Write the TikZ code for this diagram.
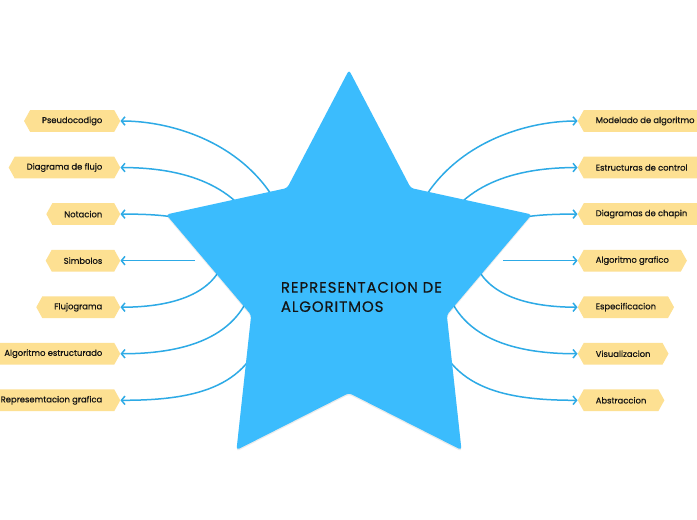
\documentclass[tikz,border=0pt]{standalone}
\usepackage{fontspec}
\setmainfont{Poppins}
\newfontfamily\tagfont{Poppins}[FakeBold=0.6]
\newfontfamily\titlefont{Poppins}[FakeBold=0.4,LetterSpace=6]
\usetikzlibrary{arrows.meta,shapes.symbols}
\definecolor{starblue}{HTML}{3BBCFD}
\definecolor{linkblue}{HTML}{2DAAE6}
\definecolor{tagyellow}{HTML}{FDE092}
\definecolor{ink}{HTML}{141414}
\begin{document}
\begin{tikzpicture}[x=1bp,y=-1bp,
  tag/.style={shape=signal, signal to=west and east, signal pointer angle=122,
    fill=tagyellow, draw=none, minimum height=21.7bp, inner xsep=12bp, inner ysep=0pt,
    font=\tagfont\fontsize{8.4bp}{10bp}\selectfont, text=ink},
  link/.style={draw=linkblue, line width=1.5bp, -{Straight Barb[length=3.5bp,width=8.5bp,line width=1.5bp]}},
  title/.style={align=left, inner sep=0pt, font=\titlefont\fontsize{15bp}{19.3bp}\selectfont, text=ink}]
\useasboundingbox (0,0) rectangle (697,520);
\fill[white] (0,0) rectangle (697,520);

% tags left
\node[tag, anchor=east] (L1) at (120.5,121) {Pseudocodigo};
\node[tag, anchor=east] (L2) at (120.5,167.55) {Diagrama de flujo};
\node[tag, anchor=east] (L3) at (120.5,214.1) {Notacion};
\node[tag, anchor=east] (L4) at (120.5,260.65) {Simbolos};
\node[tag, anchor=east] (L5) at (120.5,307.2) {Flujograma};
\node[tag, anchor=east] (L6) at (120.5,353.75) {Algoritmo estructurado};
\node[tag, anchor=east] (L7) at (120.5,400.3) {Represemtacion grafica};
% tags right
\node[tag, anchor=west] (R1) at (577.5,121) {Modelado de algoritmo};
\node[tag, anchor=west] (R2) at (577.5,167.55) {Estructuras de control};
\node[tag, anchor=west] (R3) at (577.5,214.1) {Diagramas de chapin};
\node[tag, anchor=west] (R4) at (577.5,260.65) {Algoritmo grafico};
\node[tag, anchor=west] (R5) at (577.5,307.2) {Especificacion};
\node[tag, anchor=west] (R6) at (577.5,353.75) {Visualizacion};
\node[tag, anchor=west] (R7) at (577.5,400.3) {Abstraccion};

% connector start points
\coordinate (sL1) at (290,235);
\coordinate (sL2) at (260,235);
\coordinate (sL3) at (200,225);
\coordinate (sL4) at (195,260.65);
\coordinate (sL5) at (225,255);
\coordinate (sL6) at (255,275);
\coordinate (sL7) at (265,325);
\coordinate (sR1) at (408,235);
\coordinate (sR2) at (438,235);
\coordinate (sR3) at (498,225);
\coordinate (sR4) at (503,260.65);
\coordinate (sR5) at (473,255);
\coordinate (sR6) at (443,275);
\coordinate (sR7) at (433,325);

% connectors
\draw[link] (sL1) .. controls (265,150) and (180,121) .. (L1.east);
\draw[link] (sL2) .. controls (235,180) and (175,167.55) .. (L2.east);
\draw[link] (sL3) .. controls (180,215) and (150,214.1) .. (L3.east);
\draw[link] (sL4) -- (L4.east);
\draw[link] (sL5) .. controls (218,290) and (180,307.2) .. (L5.east);
\draw[link] (sL6) .. controls (245,335) and (190,353.75) .. (L6.east);
\draw[link] (sL7) .. controls (250,390) and (190,400.3) .. (L7.east);
\draw[link] (sR1) .. controls (433,150) and (518,121) .. (R1.west);
\draw[link] (sR2) .. controls (463,180) and (523,167.55) .. (R2.west);
\draw[link] (sR3) .. controls (518,215) and (548,214.1) .. (R3.west);
\draw[link] (sR4) -- (R4.west);
\draw[link] (sR5) .. controls (480,290) and (518,307.2) .. (R5.west);
\draw[link] (sR6) .. controls (453,335) and (508,353.75) .. (R6.west);
\draw[link] (sR7) .. controls (448,390) and (508,400.3) .. (R7.west);

% star (soft shadow, then body)
\fill[black, opacity=0.08, rounded corners=3bp, yshift=-1.5bp] (349,70) -- (410.8,188) -- (531.8,214.5) -- (446.8,315)
  -- (461.5,450) -- (349,393) -- (236.5,450) -- (251.2,315) -- (166.2,214.5) -- (287.2,188) -- cycle;
\fill[starblue, rounded corners=3bp] (349,70) -- (410.8,188) -- (531.8,214.5) -- (446.8,315)
  -- (461.5,450) -- (349,393) -- (236.5,450) -- (251.2,315) -- (166.2,214.5) -- (287.2,188) -- cycle;
\node[title, anchor=north west] (C) at (280.7,281.8) {REPRESENTACION DE\\ALGORITMOS};
\end{tikzpicture}
\end{document}
